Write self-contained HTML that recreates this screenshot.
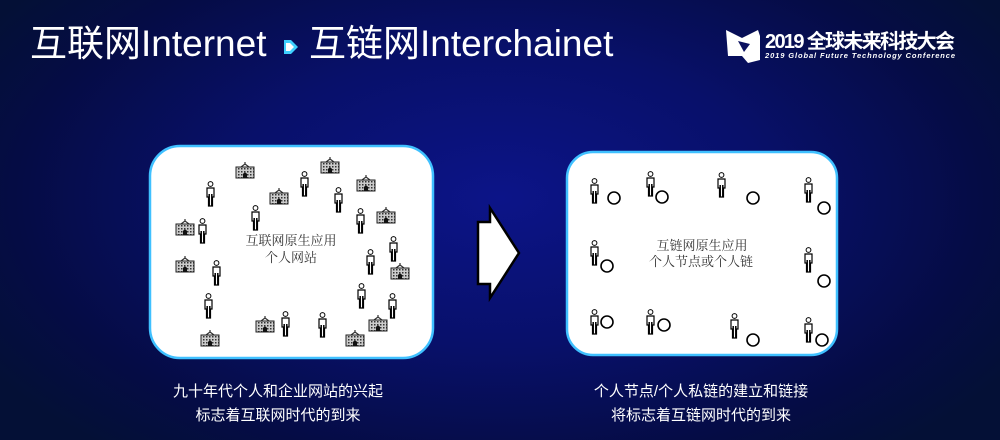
<!DOCTYPE html>
<html><head><meta charset="utf-8">
<style>
html,body{margin:0;padding:0}
body{width:1000px;height:440px;overflow:hidden;background:radial-gradient(ellipse 60% 75% at 50% 45%,#0c1488 0%,#08106a 45%,#050c45 80%,#041036 100%);font-family:"Liberation Sans","Noto Sans CJK SC",sans-serif;position:relative}
.t{position:absolute;color:#fff;white-space:nowrap}
</style></head><body>
<svg width="1000" height="440" style="position:absolute;left:0;top:0">
<defs>
<symbol id="p" viewBox="0 0 9 26">
<circle cx="4.5" cy="3" r="2.4" fill="#fff" stroke="#000" stroke-width="1"/>
<path d="M1,7 h7 v9 h-1.5 v9 h-4 v-9 h-1.5z" fill="#fff" stroke="#000" stroke-width="1.2"/>
<path d="M3.2,13 v12 M5.8,13 v12" stroke="#000" stroke-width="1.5"/>
</symbol>
<pattern id="h" width="3" height="3" patternUnits="userSpaceOnUse"><rect width="3" height="3" fill="#ccc"/><rect width="1.5" height="1.5" fill="#333"/></pattern>
<symbol id="b" viewBox="0 0 20 17">
<path d="M10,0 v2 M6,5 L10,2 L14,5" stroke="#333" fill="none" stroke-width="1.2"/>
<rect x="1" y="5" width="18" height="11" fill="url(#h)" stroke="#222" stroke-width="1"/>
<path d="M8,16 v-4 q2,-3 4,0 v4z" fill="#111"/>
</symbol>
</defs>
<rect x="150" y="146" width="283" height="212" rx="30" fill="#fff" stroke="#3fc0ff" stroke-width="2.5"/>
<rect x="567" y="152" width="270" height="203" rx="26" fill="#fff" stroke="#3fc0ff" stroke-width="2.5"/>
<polygon points="478,222 490,222 490,208 519,253 490,298 490,284 478,284" fill="#fff" stroke="#000" stroke-width="2.5"/>
<g>
<use href="#p" x="206" y="181" width="9" height="26"/>
<use href="#p" x="300" y="171" width="9" height="26"/>
<use href="#p" x="334" y="187" width="9" height="26"/>
<use href="#p" x="251" y="205" width="9" height="26"/>
<use href="#p" x="198" y="218" width="9" height="26"/>
<use href="#p" x="356" y="208" width="9" height="26"/>
<use href="#p" x="389" y="236" width="9" height="26"/>
<use href="#p" x="366" y="249" width="9" height="26"/>
<use href="#p" x="212" y="260" width="9" height="26"/>
<use href="#p" x="204" y="293" width="9" height="26"/>
<use href="#p" x="357" y="283" width="9" height="26"/>
<use href="#p" x="388" y="293" width="9" height="26"/>
<use href="#p" x="281" y="311" width="9" height="26"/>
<use href="#p" x="318" y="312" width="9" height="26"/>
</g>
<g>
<use href="#b" x="235" y="162" width="20" height="17"/>
<use href="#b" x="320" y="157" width="20" height="17"/>
<use href="#b" x="356" y="175" width="20" height="17"/>
<use href="#b" x="269" y="188" width="20" height="17"/>
<use href="#b" x="376" y="207" width="20" height="17"/>
<use href="#b" x="175" y="219" width="20" height="17"/>
<use href="#b" x="175" y="256" width="20" height="17"/>
<use href="#b" x="390" y="263" width="20" height="17"/>
<use href="#b" x="255" y="316" width="20" height="17"/>
<use href="#b" x="368" y="315" width="20" height="17"/>
<use href="#b" x="200" y="330" width="20" height="17"/>
<use href="#b" x="345" y="330" width="20" height="17"/>
</g>
<g fill="none" stroke="#000" stroke-width="1.6">
<use href="#p" x="590" y="178" width="9" height="26"/><circle cx="614" cy="198" r="6"/>
<use href="#p" x="646" y="171" width="9" height="26"/><circle cx="662" cy="197" r="6"/>
<use href="#p" x="717" y="172" width="9" height="26"/><circle cx="753" cy="198" r="6"/>
<use href="#p" x="804" y="177" width="9" height="26"/><circle cx="824" cy="208" r="6"/>
<use href="#p" x="590" y="240" width="9" height="26"/><circle cx="607" cy="266" r="6"/>
<use href="#p" x="804" y="247" width="9" height="26"/><circle cx="824" cy="281" r="6"/>
<use href="#p" x="590" y="309" width="9" height="26"/><circle cx="607" cy="322" r="6"/>
<use href="#p" x="646" y="309" width="9" height="26"/><circle cx="664" cy="325" r="6"/>
<use href="#p" x="730" y="313" width="9" height="26"/><circle cx="753" cy="340" r="6"/>
<use href="#p" x="804" y="317" width="9" height="26"/><circle cx="822" cy="340" r="6"/>
</g>
<g font-family="'Liberation Serif','Noto Serif CJK SC',serif" font-size="13" fill="#333" text-anchor="middle">
<text x="291" y="245">互联网原生应用</text><text x="291" y="262">个人网站</text>
<text x="702" y="250">互链网原生应用</text><text x="701" y="266">个人节点或个人链</text>
</g>
<polygon points="284,40 291,40 298,47 291,54 284,54" fill="#3fd0ff"/>
<polygon points="286,43 290,43 294,47 290,51 286,51" fill="#fff"/>
<path d="M726,30 L742,38 L758,30 L760,36 L760,60 L748,63 L742,56 L728,56 Z" fill="#fff"/>
<path d="M738,41 L750,44 L744,52 Z" fill="#0a1060"/>
<text x="765" y="48" fill="#fff" font-size="20" font-weight="bold" font-family="'Liberation Sans','Noto Sans CJK SC',sans-serif" textLength="190">2019 全球未来科技大会</text>
<text x="765" y="58" fill="#fff" font-size="7.5" font-style="italic" font-weight="bold" textLength="190">2019 Global Future Technology Conference</text>
</svg>
<div class="t" style="left:30px;top:20px;font-size:37px;line-height:48px">互联网Internet</div>
<div class="t" style="left:309px;top:20px;font-size:37px;line-height:48px">互链网Interchainet</div>
<div class="t" style="left:0;width:556px;text-align:center;top:382px;font-size:15px;line-height:20px">九十年代个人和企业网站的兴起</div>
<div class="t" style="left:0;width:556px;text-align:center;top:406px;font-size:15px;line-height:20px">标志着互联网时代的到来</div>
<div class="t" style="left:500px;width:402px;text-align:center;top:382px;font-size:15px;line-height:20px">个人节点/个人私链的建立和链接</div>
<div class="t" style="left:500px;width:402px;text-align:center;top:406px;font-size:15px;line-height:20px">将标志着互链网时代的到来</div>
</body></html>
